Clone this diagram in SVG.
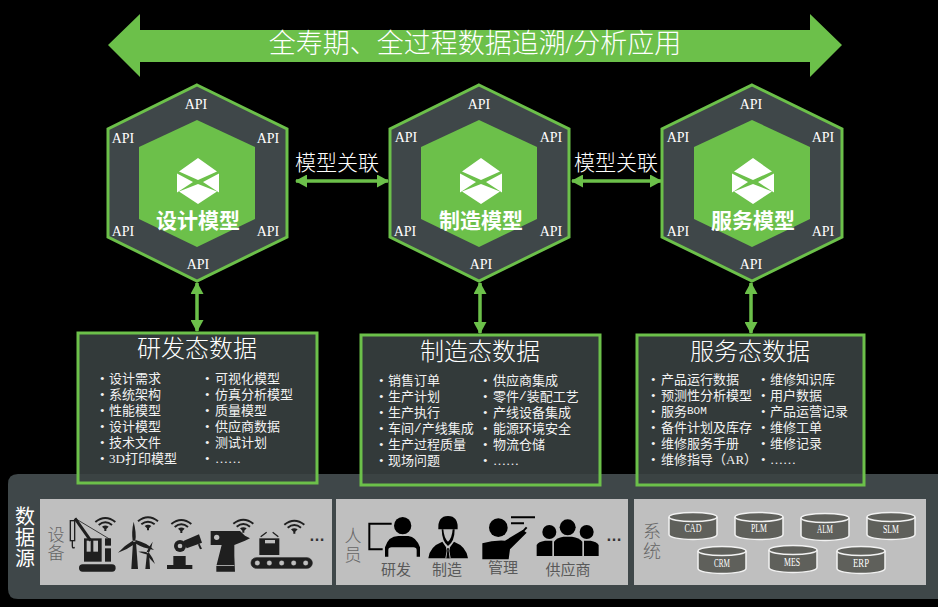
<svg xmlns="http://www.w3.org/2000/svg" width="938" height="607" viewBox="0 0 938 607">
<style>
text{font-family:"Liberation Serif","Noto Sans CJK SC",serif;text-anchor:middle;dominant-baseline:central}
.hex{fill:#3f4749;stroke:#6cc04a;stroke-width:3}
.inner{fill:#6cc04a}
.api{font-family:"Liberation Serif","Noto Sans CJK SC",serif;font-size:14px;fill:#fff}
.name{font-family:"Liberation Sans","Noto Sans CJK SC",sans-serif;font-size:21px;font-weight:700;fill:#fff}
.link{font-size:21px;fill:#fff;font-weight:300}
.box{fill:#3b4343;fill-opacity:.87;stroke:#6cc04a;stroke-width:3}
.boxt{font-size:24px;fill:#fff;font-weight:300}
.li{font-size:13px;fill:#f2f2f2;text-anchor:start}
.mono{font-family:"Liberation Mono",monospace}
.grey{fill:#bfbfbf}
.lab{font-size:17px;fill:#666;font-weight:300}
.sub{font-size:15px;fill:#595959}
.dots{font-family:"Liberation Sans",sans-serif;font-size:16px;font-weight:700;fill:#333}
.conn{stroke:#6cc04a;stroke-width:3.5;fill:none;marker-start:url(#ah);marker-end:url(#ah)}
.cyl{fill:#5f605b;stroke:#f2f2f2;stroke-width:1.5}
.cylt{font-size:12px;fill:#fff}
.wifi{fill:none;stroke:#1f1f1f;stroke-width:6}
.k{fill:#1f1f1f}
.b{fill:#000}
.g{fill:#bfbfbf}
</style>
<defs>
<marker id="ah" markerUnits="userSpaceOnUse" viewBox="0 0 12 13" refX="11" refY="6.5" markerWidth="12" markerHeight="13" orient="auto-start-reverse"><path d="M0 0L12 6.5L0 13Z" fill="#6cc04a"/></marker>
<path id="cube" fill="#fff" d="M0-23L19-9.500L0-1L-19-9.500ZM0 23L19 10.500L0 3L-19 10.500ZM21-7.500V11.500L5 1ZM-21-7.500V11.500L-5 1Z"/>
<g id="wifi"><path class="wifi" d="M-30 11Q0-13 30 11M-20 20Q0 4 20 20"/><path class="k" d="M-10 25Q0 18 10 25L3 32V38H-3V32Z"/></g>
<g id="cyl"><path class="cyl" d="M0 5V22.500C0 25.500 11 27.500 24 27.500S48 25.500 48 22.500V5"/><ellipse class="cyl" cx="24" cy="5" rx="24" ry="4.500"/></g>
</defs>
<rect width="938" height="607" fill="#000"/>
<g id="arrow-banner"><path fill="#6cc04a" d="M108 45L140 14V30H810V14L842 45L810 77V62H140V77Z"/><text x="475" y="44" font-size="27" font-weight="300" fill="#fff">全寿期、全过程数据追溯/分析应用</text></g>
<g id="data-source">
<path fill="#3f4749" d="M18 474H938V599H18Q8 599 8 589V484Q8 474 18 474Z"/>
<text x="25" y="517" font-size="20" fill="#fff">数</text><text x="25" y="538" font-size="20" fill="#fff">据</text><text x="25" y="559" font-size="20" fill="#fff">源</text>
</g>
<g id="devices">
<rect class="grey" x="40" y="499" width="292" height="86"/>
<text class="lab" x="56" y="535">设</text><text class="lab" x="56" y="553">备</text>
<g transform="translate(0 470) scale(.33333)">
<use href="#wifi" x="316" y="145"/><use href="#wifi" x="444" y="143"/><use href="#wifi" x="544" y="151"/><use href="#wifi" x="730" y="150"/><use href="#wifi" x="883" y="153"/>
<g id="crane"><rect class="k" x="252" y="205" width="53" height="70"/><rect class="g" x="260" y="212" width="12" height="33"/><rect class="g" x="280" y="212" width="14" height="33"/><rect class="k" x="315" y="235" width="18" height="40"/><rect class="k" x="315" y="205" width="18" height="22"/><rect class="k" x="237" y="283" width="110" height="22" rx="11"/><path d="M225 145L272 212" stroke="#1f1f1f" stroke-width="9" fill="none"/><path d="M225 145L330 208" stroke="#1f1f1f" stroke-width="2.500" fill="none"/><rect x="211" y="152" width="13" height="60" fill="#bfbfbf" stroke="#1f1f1f" stroke-width="4"/><path d="M217 212V228Q217 237 224 232" stroke="#1f1f1f" stroke-width="4" fill="none"/></g>
<g id="turbines" class="k"><path d="M399 215L408 215L414 297H394Z"/><path d="M401 155Q410 190 406 212L398 212Q394 185 401 155ZM407 210Q440 218 462 240Q430 235 405 220ZM398 212L404 222Q380 240 354 248Q375 225 398 212Z"/><path d="M441 250H447L450 297H436Z"/><path d="M458 215Q455 235 447 248L440 245Q448 228 458 215ZM440 247L446 255Q430 250 415 245Q428 243 440 247ZM446 247Q458 262 465 282Q450 268 441 254Z"/></g>
<g id="robot" class="k"><rect x="501" y="285" width="76" height="12"/><rect x="520" y="258" width="37" height="27"/><circle cx="540" cy="228" r="18"/><path d="M550 213L597 193L606 218L560 235Z"/><path d="M598 220L606 236L600 238L594 224Z"/><circle cx="540" cy="228" r="7" fill="#bfbfbf"/></g>
<g id="drill"><path class="k" d="M632 183H720L735 197L750 205L735 212L703 225V258L705 305H649V288L665 225H632Z"/><circle class="g" cx="650" cy="202" r="8"/><rect class="g" x="648" y="285" width="55" height="2.500"/></g>
<g id="conveyor"><rect class="k" x="778" y="205" width="60" height="50"/><rect class="g" x="795" y="210" width="30" height="10"/><path d="M782 200L800 187M835 200L818 187" stroke="#1f1f1f" stroke-width="4" fill="none"/><rect x="753" y="263" width="184" height="32" rx="16" fill="#1f1f1f" stroke="#1f1f1f" stroke-width="2"/><g class="g" stroke="#bfbfbf"><circle cx="772" cy="279" r="7"/><circle cx="808" cy="279" r="7"/><circle cx="845" cy="279" r="7"/><circle cx="881" cy="279" r="7"/><circle cx="917" cy="279" r="7"/></g></g>
</g>
<text class="dots" x="317" y="535">…</text>
</g>
<g id="people">
<rect class="grey" x="336" y="499" width="292" height="86"/>
<text class="lab" x="353" y="536">人</text><text class="lab" x="353" y="555">员</text>
<g transform="translate(330 490) scale(.33333)">
<g id="p-rd"><path d="M185 101H118V178H158" stroke="#000" stroke-width="6" fill="none"/><circle class="b" cx="218" cy="107" r="26"/><path class="b" d="M165 200V172Q175 138 205 138H235Q258 140 270 172V200H260V180Q260 172 250 172H185Q175 172 175 180V200Z"/></g>
<g id="p-mfg"><path class="b" d="M295 205Q298 170 337 155L354 180L372 155Q410 170 414 205Z"/><path class="g" d="M340 118H368V140Q362 165 354 165Q346 165 340 140Z"/><path class="b" d="M335 118H340Q342 145 354 155Q366 145 368 118H374Q374 155 354 168Q336 155 335 118Z"/><path class="b" d="M325 118Q323 78 354 78Q385 78 383 118Z"/><path class="g" d="M348 172H360L358 182L362 205H346L350 182Z"/><path class="b" d="M351 175H357L356 182L359 205H349L352 182Z"/></g>
<g id="p-mgr"><circle class="b" cx="505" cy="113" r="28"/><path class="b" d="M457 160Q490 150 525 152L578 120L590 128L540 178L536 208H457Z"/><path d="M578 125L590 112" stroke="#000" stroke-width="6"/><path d="M543 82H615M543 100H582" stroke="#000" stroke-width="6"/></g>
<g id="p-sup" class="b"><circle cx="658" cy="126" r="21"/><circle cx="713" cy="112" r="24"/><circle cx="770" cy="126" r="21"/><path d="M620 198V165Q625 155 645 152H667V198Z"/><path d="M672 198V155Q680 143 700 140H726Q748 143 757 155V198Z"/><path d="M762 198V152H782Q800 155 806 165V198Z"/></g>
</g>
<text class="sub" x="396" y="570">研发</text><text class="sub" x="447" y="570">制造</text><text class="sub" x="503" y="568">管理</text><text class="sub" x="568" y="570">供应商</text>
<text class="dots" x="614" y="535">…</text>
</g>
<g id="systems">
<rect class="grey" x="634" y="499" width="292" height="86"/>
<text class="lab" x="652" y="532" style="font-size:18px">系</text><text class="lab" x="652" y="552" style="font-size:18px">统</text>
<g id="s-cad"><use href="#cyl" x="669" y="512"/><text class="cylt" x="693" y="528" textLength="17" lengthAdjust="spacingAndGlyphs">CAD</text></g>
<g id="s-plm"><use href="#cyl" x="735" y="512"/><text class="cylt" x="759" y="528" textLength="16" lengthAdjust="spacingAndGlyphs">PLM</text></g>
<g id="s-alm"><use href="#cyl" x="801" y="513"/><text class="cylt" x="825" y="529" textLength="16" lengthAdjust="spacingAndGlyphs">ALM</text></g>
<g id="s-slm"><use href="#cyl" x="867" y="512"/><text class="cylt" x="891" y="529" textLength="16" lengthAdjust="spacingAndGlyphs">SLM</text></g>
<g id="s-crm"><use href="#cyl" x="698" y="546"/><text class="cylt" x="722" y="563" textLength="16" lengthAdjust="spacingAndGlyphs">CRM</text></g>
<g id="s-mes"><use href="#cyl" x="769" y="545"/><text class="cylt" x="792" y="562" textLength="16" lengthAdjust="spacingAndGlyphs">MES</text></g>
<g id="s-erp"><use href="#cyl" x="837" y="546"/><text class="cylt" x="861" y="563" textLength="16" lengthAdjust="spacingAndGlyphs">ERP</text></g>
</g>
<g id="connectors">
<path class="conn" d="M296 181H388"/><path class="conn" d="M572 181H661"/>
<path class="conn" d="M197 283V331"/><path class="conn" d="M480 283V333"/><path class="conn" d="M751 283V333"/>
</g>
<text class="link" x="337" y="163">模型关联</text><text class="link" x="616" y="163">模型关联</text>
<g id="design-model">
<path class="hex" d="M197 85L287 129V237L197 281L108 237V129Z"/><path class="inner" d="M197 120L255 147V219L197 247L139 219V147Z"/>
<use href="#cube" x="198" y="181"/><text class="name" x="198" y="220">设计模型</text>
<text class="api" x="196" y="104">API</text><text class="api" x="123" y="138">API</text><text class="api" x="268" y="138">API</text><text class="api" x="123" y="231">API</text><text class="api" x="268" y="231">API</text><text class="api" x="198" y="264">API</text>
</g>
<g id="manufacturing-model">
<path class="hex" d="M479 85L569 129V237L479 281L390 237V129Z"/><path class="inner" d="M479 120L537 147V219L479 247L421 219V147Z"/>
<use href="#cube" x="481" y="181"/><text class="name" x="481" y="220">制造模型</text>
<text class="api" x="479" y="104">API</text><text class="api" x="406" y="137">API</text><text class="api" x="551" y="137">API</text><text class="api" x="405" y="231">API</text><text class="api" x="551" y="231">API</text><text class="api" x="481" y="264">API</text>
</g>
<g id="service-model">
<path class="hex" d="M752 85L842 129V237L752 281L662 237V129Z"/><path class="inner" d="M752 120L810 147V219L752 247L694 219V147Z"/>
<use href="#cube" x="753" y="181"/><text class="name" x="753" y="220">服务模型</text>
<text class="api" x="751" y="104">API</text><text class="api" x="678" y="137">API</text><text class="api" x="823" y="137">API</text><text class="api" x="678" y="231">API</text><text class="api" x="823" y="231">API</text><text class="api" x="751" y="264">API</text>
</g>
<g id="rd-data">
<rect class="box" x="78" y="333" width="239" height="150"/><text class="boxt" x="197" y="349">研发态数据</text>
<text class="li" x="100" y="378">•</text><text class="li" x="109" y="378">设计需求</text>
<text class="li" x="100" y="394">•</text><text class="li" x="109" y="394">系统架构</text>
<text class="li" x="100" y="410">•</text><text class="li" x="109" y="410">性能模型</text>
<text class="li" x="100" y="426">•</text><text class="li" x="109" y="426">设计模型</text>
<text class="li" x="100" y="442">•</text><text class="li" x="109" y="442">技术文件</text>
<text class="li" x="100" y="458">•</text><text class="li" x="109" y="458">3D打印模型</text>
<text class="li" x="205" y="378">•</text><text class="li" x="215" y="378">可视化模型</text>
<text class="li" x="205" y="394">•</text><text class="li" x="215" y="394">仿真分析模型</text>
<text class="li" x="205" y="410">•</text><text class="li" x="215" y="410">质量模型</text>
<text class="li" x="205" y="426">•</text><text class="li" x="215" y="426">供应商数据</text>
<text class="li" x="205" y="442">•</text><text class="li" x="215" y="442">测试计划</text>
<text class="li" x="205" y="458">•</text><text class="li" x="215" y="458">……</text>
</g>
<g id="mfg-data">
<rect class="box" x="361" y="335" width="239" height="150"/><text class="boxt" x="480" y="352">制造态数据</text>
<text class="li" x="379" y="380">•</text><text class="li" x="388" y="380">销售订单</text>
<text class="li" x="379" y="396">•</text><text class="li" x="388" y="396">生产计划</text>
<text class="li" x="379" y="412">•</text><text class="li" x="388" y="412">生产执行</text>
<text class="li" x="379" y="428">•</text><text class="li" x="388" y="428">车间<tspan class="mono">/</tspan>产线集成</text>
<text class="li" x="379" y="444">•</text><text class="li" x="388" y="444">生产过程质量</text>
<text class="li" x="379" y="460">•</text><text class="li" x="388" y="460">现场问题</text>
<text class="li" x="483" y="380">•</text><text class="li" x="493" y="380">供应商集成</text>
<text class="li" x="483" y="396">•</text><text class="li" x="493" y="396">零件<tspan class="mono">/</tspan>装配工艺</text>
<text class="li" x="483" y="412">•</text><text class="li" x="493" y="412">产线设备集成</text>
<text class="li" x="483" y="428">•</text><text class="li" x="493" y="428">能源环境安全</text>
<text class="li" x="483" y="444">•</text><text class="li" x="493" y="444">物流仓储</text>
<text class="li" x="483" y="460">•</text><text class="li" x="493" y="460">……</text>
</g>
<g id="service-data">
<rect class="box" x="637" y="335" width="227" height="150"/><text class="boxt" x="750" y="352">服务态数据</text>
<text class="li" x="651" y="379">•</text><text class="li" x="661" y="379">产品运行数据</text>
<text class="li" x="651" y="395">•</text><text class="li" x="661" y="395">预测性分析模型</text>
<text class="li" x="651" y="411">•</text><text class="li" x="661" y="411">服务<tspan class="mono" font-size="11">BOM</tspan></text>
<text class="li" x="651" y="427">•</text><text class="li" x="661" y="427">备件计划及库存</text>
<text class="li" x="651" y="443">•</text><text class="li" x="661" y="443">维修服务手册</text>
<text class="li" x="651" y="459">•</text><text class="li" x="661" y="459">维修指导（AR）</text>
<text class="li" x="761" y="379">•</text><text class="li" x="770" y="379">维修知识库</text>
<text class="li" x="761" y="395">•</text><text class="li" x="770" y="395">用户数据</text>
<text class="li" x="761" y="411">•</text><text class="li" x="770" y="411">产品运营记录</text>
<text class="li" x="761" y="427">•</text><text class="li" x="770" y="427">维修工单</text>
<text class="li" x="761" y="443">•</text><text class="li" x="770" y="443">维修记录</text>
<text class="li" x="761" y="459">•</text><text class="li" x="770" y="459">……</text>
</g>
</svg>
